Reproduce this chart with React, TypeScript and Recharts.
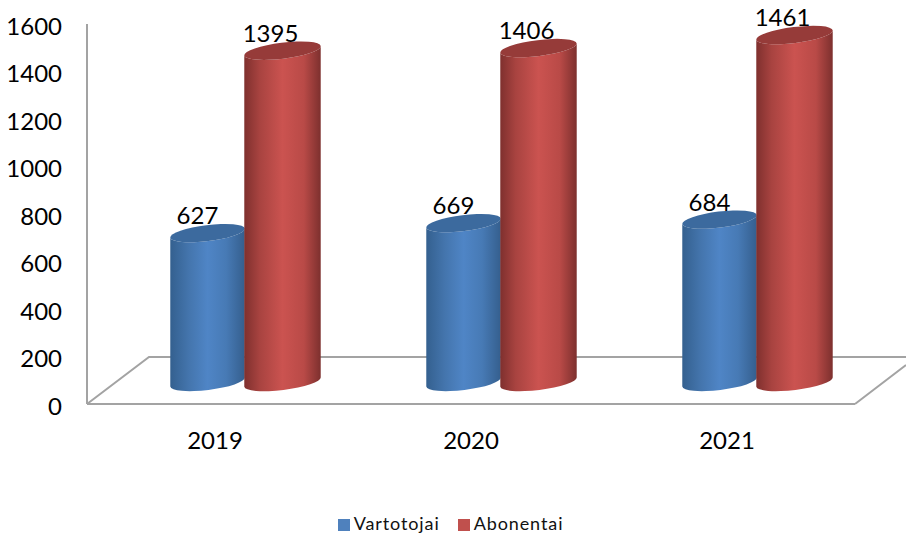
import React from "react";
import { BarChart, Bar, XAxis, YAxis, Legend, LabelList } from "recharts";

const years = ["2019", "2020", "2021"];
const vartotojai = [627, 669, 684];
const abonentai = [1395, 1406, 1461];
const yTicks = [0, 200, 400, 600, 800, 1000, 1200, 1400, 1600];

const chartData = years.map((year, i) => ({ year, Vartotojai: vartotojai[i], Abonentai: abonentai[i] }));

const W = 906;
const H = 533;
const AXIS_W = 87;
const AXIS_H = 129;
const M = { top: 24, right: 51, bottom: 0, left: 0 };
const GRAY = "#a3a3a3";
const FONT = "Lato, Carlito, sans-serif";

// 3D projection offsets of the depth-shifted cylinders
const DX = 30;
const DY = -22;
const TILT = 7;
const RY = 8;

const Cylinder = (props: any) => {
  const { x, y, width, height, gradient, topFill, grow = 0 } = props;
  const t = (TILT * Math.PI) / 180;
  const rx = width / 2 + grow;
  const cx = x + DX + width / 2;
  const topY = y + DY;
  const botY = y + height + DY;
  const ex = rx * Math.cos(t);
  const ey = rx * Math.sin(t);
  const d = [
    `M${cx - ex},${topY + ey}`,
    `L${cx - ex},${botY + ey}`,
    `A${rx},${RY} ${-TILT} 0 0 ${cx + ex},${botY - ey}`,
    `L${cx + ex},${topY - ey}`,
    `A${rx},${RY} ${-TILT} 0 1 ${cx - ex},${topY + ey}`,
    "Z",
  ].join(" ");
  return (
    <g>
      <path d={d} fill={`url(#${gradient})`} />
      <ellipse cx={cx} cy={topY} rx={rx} ry={RY} fill={topFill} transform={`rotate(${-TILT} ${cx} ${topY})`} />
    </g>
  );
};

const makeLabel = (shift: number) => (props: any) => {
  const { x, y, width, value } = props;
  return (
    <text x={x + DX + width / 2 + shift} y={y + DY - 9} textAnchor="middle" fontSize={24} fontFamily={FONT} fill="#000">
      {value}
    </text>
  );
};

const Floor = () => {
  const left = AXIS_W;
  const right = W - M.right;
  const front = H - AXIS_H;
  const back = front - 47;
  const d = `M${left},${front} L${left + 62},${back} L${W},${back} M${right},${front} L${right + 51},${front - 39}`;
  return <path d={d} fill="none" stroke={GRAY} strokeWidth={2} />;
};

export default function App() {
  return (
    <div style={{ position: "absolute", left: 0, top: 0, width: W, height: H }}>
      <BarChart width={W} height={H} data={chartData} margin={M} barCategoryGap={53} barGap={0}>
        <defs>
          <linearGradient id="blueG" x1="0" y1="0" x2="1" y2="0">
            <stop offset="0" stopColor="#34608f" />
            <stop offset="0.25" stopColor="#4475ad" />
            <stop offset="0.5" stopColor="#4f85c6" />
            <stop offset="0.75" stopColor="#477ab5" />
            <stop offset="1" stopColor="#355f8e" />
          </linearGradient>
          <linearGradient id="redG" x1="0" y1="0" x2="1" y2="0">
            <stop offset="0" stopColor="#7f302e" />
            <stop offset="0.2" stopColor="#a84340" />
            <stop offset="0.5" stopColor="#cb5350" />
            <stop offset="0.78" stopColor="#b94a47" />
            <stop offset="1" stopColor="#7d302e" />
          </linearGradient>
        </defs>
        <Floor />
        <XAxis
          dataKey="year"
          height={AXIS_H}
          axisLine={{ stroke: GRAY, strokeWidth: 2 }}
          tickLine={false}
          tickMargin={22}
          tick={{ fontSize: 24, fontFamily: FONT, fill: "#000" }}
        />
        <YAxis
          domain={[0, 1600]}
          ticks={yTicks}
          width={AXIS_W}
          interval={0}
          axisLine={{ stroke: GRAY, strokeWidth: 2 }}
          tickLine={false}
          tickMargin={19}
          tick={{ fontSize: 24, fontFamily: FONT, fill: "#000", dy: 2 }}
        />
        <Legend
          verticalAlign="middle"
          align="center"
          iconType="square"
          iconSize={12}
          itemSorter={null}
          wrapperStyle={{ left: 5, width: W - 5, top: 512, fontFamily: FONT, fontSize: 18, letterSpacing: 0.9 }}
          formatter={(v: string, _e: any, i: number) => (
            <span style={{ color: "#111", marginRight: i === 0 ? 8 : 0 }}>{v}</span>
          )}
        />
        <Bar
          dataKey="Vartotojai"
          fill="#4f81bd"
          isAnimationActive={false}
          shape={(p: any) => <Cylinder {...p} gradient="blueG" topFill="#3c6a9e" />}
        >
          <LabelList dataKey="Vartotojai" content={makeLabel(-10)} />
        </Bar>
        <Bar
          dataKey="Abonentai"
          fill="#c0504d"
          isAnimationActive={false}
          shape={(p: any) => <Cylinder {...p} gradient="redG" topFill="#963b39" grow={1} />}
        >
          <LabelList dataKey="Abonentai" content={makeLabel(-12)} />
        </Bar>
      </BarChart>
    </div>
  );
}
